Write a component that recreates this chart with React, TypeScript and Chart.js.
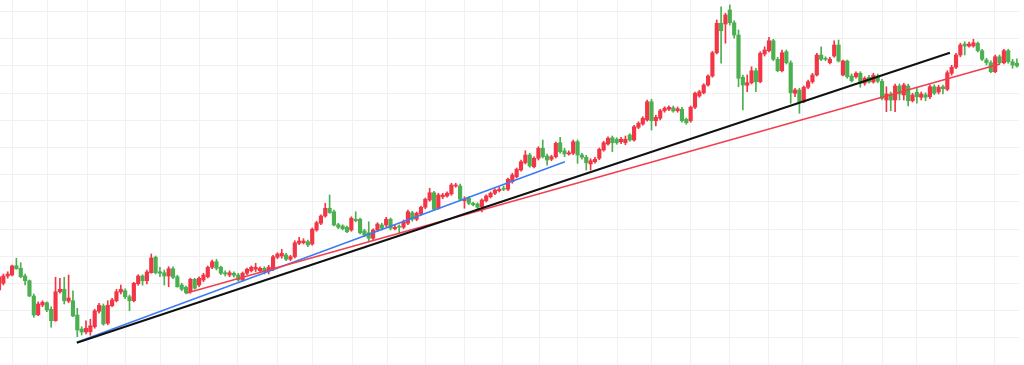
import React, { useEffect, useRef } from "react";
import { Chart, registerables } from "chart.js";

Chart.register(...registerables);

// Weekly candles (index 0..234), price units arbitrary (no axis labels shown)
const opens = [
  30.0, 32.7, 35.6, 36.0, 39.7, 38.7, 35.6, 33.7, 27.6, 20.1,
  24.0, 24.9, 22.3, 17.7, 29.3, 30.3, 25.6, 25.7, 20.0, 14.4,
  13.2, 13.3, 15.3, 21.5, 23.6, 16.7, 23.7, 25.7, 29.2, 29.7,
  27.3, 25.7, 32.5, 35.6, 33.7, 36.9, 43.1, 37.3, 36.9, 35.6,
  38.5, 35.3, 32.0, 31.1, 29.3, 34.3, 32.0, 34.0, 35.3, 39.1,
  41.3, 39.1, 36.9, 36.0, 36.7, 36.0, 34.0, 36.7, 37.7, 38.3,
  37.7, 38.7, 38.0, 38.3, 43.1, 43.6, 44.0, 42.3, 43.3, 48.7,
  48.9, 49.3, 48.4, 54.0, 56.7, 59.6, 62.7, 61.3, 56.1, 55.6,
  55.1, 54.0, 58.3, 58.3, 53.7, 52.9, 50.7, 54.0, 56.0, 56.0,
  58.3, 54.5, 55.3, 55.1, 56.7, 60.9, 58.3, 60.4, 63.1, 66.0,
  68.9, 62.7, 67.3, 67.6, 68.4, 71.6, 71.6, 65.7, 66.7, 64.7,
  64.4, 63.3, 65.7, 67.3, 68.7, 69.7, 70.7, 70.3, 73.3, 75.3,
  78.0, 80.9, 84.0, 79.3, 82.7, 86.7, 83.6, 82.3, 83.3, 88.9,
  85.7, 84.4, 84.7, 89.3, 84.0, 83.1, 80.4, 81.3, 82.7, 86.0,
  88.4, 90.9, 90.3, 89.3, 88.9, 92.0, 90.0, 95.1, 96.4, 98.0,
  105.3, 97.7, 98.7, 101.7, 102.3, 102.9, 101.7, 102.3, 98.3, 97.7,
  103.1, 107.6, 108.9, 112.0, 115.6, 124.9, 136.7, 136.4, 142.0, 136.9,
  132.0, 115.1, 111.9, 112.9, 117.7, 113.3, 124.4, 125.7, 129.7, 122.3,
  117.7, 125.3, 120.9, 108.7, 110.0, 105.3, 111.1, 113.3, 116.0, 124.0,
  122.5, 120.9, 123.6, 128.0, 116.0, 121.6, 115.6, 115.3, 116.7, 112.7,
  115.1, 113.2, 115.6, 113.5, 106.0, 108.4, 106.0, 111.6, 108.0, 111.6,
  105.7, 109.1, 107.1, 108.1, 107.3, 111.3, 109.2, 111.3, 110.3, 116.7,
  119.1, 124.0, 128.4, 127.6, 127.6, 128.7, 125.7, 122.0, 120.9, 117.3,
  123.3, 120.9, 125.7, 121.3, 120.7,
];

const closes = [
  35.3, 35.6, 36.4, 39.6, 38.5, 35.3, 33.7, 27.6, 20.0, 24.4,
  25.1, 22.0, 17.7, 29.3, 30.3, 25.7, 26.8, 19.6, 14.0, 13.2,
  14.7, 15.7, 21.7, 23.9, 16.4, 23.9, 26.0, 29.3, 30.3, 27.3,
  25.7, 32.7, 35.6, 33.7, 37.2, 42.8, 36.9, 36.7, 35.6, 38.5,
  35.1, 31.3, 30.3, 28.9, 34.3, 30.7, 34.7, 36.0, 39.1, 41.3,
  38.7, 36.7, 36.4, 36.9, 35.9, 34.0, 36.7, 38.3, 39.1, 39.1,
  38.7, 37.3, 39.1, 43.3, 44.4, 44.7, 42.3, 43.3, 48.9, 49.6,
  49.6, 48.0, 54.3, 56.9, 59.6, 62.7, 60.9, 56.0, 55.1, 54.5,
  53.3, 58.7, 57.7, 52.9, 52.0, 50.7, 54.0, 56.4, 54.7, 58.3,
  54.7, 55.1, 55.1, 57.3, 61.3, 58.3, 60.7, 63.1, 66.3, 68.9,
  62.3, 68.0, 68.0, 68.7, 72.0, 72.0, 66.3, 66.3, 64.7, 64.1,
  63.1, 66.0, 67.6, 68.7, 70.0, 70.3, 70.3, 74.3, 76.0, 78.3,
  81.3, 84.0, 79.6, 82.7, 86.7, 83.3, 82.0, 83.3, 88.7, 85.3,
  84.4, 84.9, 89.3, 84.0, 83.1, 80.9, 81.7, 82.3, 86.3, 88.9,
  90.7, 88.9, 88.9, 90.3, 90.3, 90.0, 95.3, 96.7, 98.7, 105.3,
  97.7, 99.1, 101.7, 102.7, 103.1, 101.6, 102.5, 97.7, 96.9, 103.1,
  108.7, 109.3, 112.0, 115.6, 124.9, 136.7, 133.7, 140.0, 136.9, 132.0,
  114.7, 112.0, 112.9, 117.7, 113.3, 124.7, 126.0, 129.7, 122.3, 117.7,
  124.9, 120.9, 108.9, 110.0, 104.9, 111.1, 113.3, 116.0, 124.0, 122.3,
  122.3, 122.3, 128.0, 121.6, 121.6, 115.3, 113.7, 116.7, 112.7, 114.7,
  113.2, 115.9, 113.5, 106.7, 108.4, 106.0, 111.6, 108.4, 112.0, 105.7,
  108.0, 107.3, 108.4, 107.1, 111.3, 108.7, 111.1, 110.5, 116.9, 119.1,
  124.0, 128.0, 127.6, 128.4, 128.9, 125.7, 122.3, 120.9, 117.3, 123.3,
  120.9, 125.7, 121.3, 120.0, 119.6,
];

const highs = [
  36.0, 36.4, 37.3, 40.0, 42.7, 40.9, 36.4, 34.0, 28.4, 25.3,
  25.7, 25.3, 23.3, 35.1, 34.7, 35.1, 36.0, 29.7, 22.7, 15.3,
  17.7, 18.3, 22.3, 24.7, 24.4, 25.7, 26.7, 30.3, 32.0, 30.5,
  28.0, 33.1, 36.1, 36.1, 38.0, 44.4, 43.6, 39.1, 38.0, 39.3,
  39.3, 35.9, 32.7, 31.6, 34.7, 34.7, 35.3, 36.7, 39.6, 42.0,
  42.3, 39.6, 37.7, 37.7, 37.3, 36.7, 37.2, 38.8, 39.6, 40.7,
  39.3, 39.3, 39.9, 43.9, 44.9, 46.3, 44.7, 43.9, 49.7, 51.1,
  50.5, 50.0, 54.8, 57.5, 60.1, 64.7, 68.0, 62.0, 56.7, 56.1,
  55.6, 59.3, 61.3, 58.8, 54.3, 57.3, 54.5, 56.9, 56.7, 59.1,
  58.8, 55.9, 56.0, 58.0, 62.0, 61.5, 61.2, 63.6, 66.8, 70.7,
  69.5, 68.7, 68.7, 69.3, 72.7, 72.7, 72.4, 67.3, 67.3, 65.2,
  64.9, 66.5, 68.1, 69.2, 70.5, 71.1, 71.6, 74.8, 76.7, 78.8,
  82.0, 85.7, 84.7, 83.3, 87.3, 90.0, 84.4, 83.9, 89.2, 91.1,
  86.7, 85.7, 90.0, 90.0, 84.7, 83.9, 82.5, 83.1, 86.8, 89.5,
  91.3, 91.6, 90.9, 91.1, 91.6, 92.5, 95.9, 97.3, 99.3, 106.0,
  106.3, 100.0, 102.3, 103.3, 103.7, 103.6, 103.2, 103.1, 98.8, 103.6,
  109.2, 109.9, 112.5, 116.1, 125.5, 138.0, 143.3, 140.7, 144.0, 137.7,
  134.0, 116.0, 116.0, 119.3, 118.7, 125.3, 127.3, 131.1, 130.3, 123.1,
  126.0, 126.0, 121.7, 110.7, 110.7, 111.6, 114.0, 116.7, 124.7, 127.3,
  123.3, 123.1, 129.7, 130.0, 122.0, 122.0, 116.4, 117.3, 117.3, 115.3,
  115.9, 116.7, 116.4, 114.3, 111.3, 109.2, 112.4, 112.4, 112.7, 112.4,
  108.7, 111.1, 109.2, 108.9, 112.1, 112.1, 111.9, 112.0, 117.7, 119.9,
  124.7, 128.7, 129.3, 129.2, 130.3, 129.2, 126.3, 122.7, 121.7, 124.0,
  124.0, 126.3, 126.3, 122.3, 122.5,
];

const lows = [
  29.3, 32.0, 34.7, 35.6, 38.3, 34.9, 32.0, 27.3, 19.1, 19.7,
  23.3, 21.3, 15.1, 17.5, 28.7, 24.4, 24.9, 19.3, 11.3, 12.0,
  12.4, 11.9, 14.7, 20.7, 15.9, 16.1, 23.3, 25.2, 28.4, 26.5,
  21.7, 25.2, 31.9, 31.9, 32.4, 36.7, 36.4, 35.3, 32.0, 31.3,
  34.5, 31.1, 29.7, 28.4, 28.7, 30.3, 31.3, 33.3, 34.8, 38.5,
  38.0, 36.1, 35.6, 35.3, 35.1, 33.5, 33.5, 36.1, 37.2, 37.3,
  36.9, 36.4, 36.4, 37.7, 42.5, 42.7, 41.7, 41.7, 42.8, 48.1,
  48.4, 47.3, 47.9, 53.5, 56.1, 59.1, 60.7, 55.6, 54.5, 54.0,
  52.9, 53.5, 57.3, 52.4, 51.3, 49.3, 50.0, 53.5, 54.0, 55.3,
  54.0, 54.0, 52.9, 54.5, 56.1, 57.5, 57.7, 59.9, 62.5, 65.5,
  62.0, 62.3, 66.5, 67.1, 67.9, 71.1, 66.0, 62.7, 64.1, 63.6,
  62.5, 61.2, 65.2, 66.8, 68.1, 69.2, 69.7, 69.7, 72.7, 74.8,
  77.5, 80.4, 79.1, 78.8, 82.0, 82.8, 79.9, 81.7, 82.8, 84.7,
  83.3, 83.9, 84.1, 80.7, 82.3, 78.0, 78.0, 80.7, 82.1, 85.5,
  87.9, 85.3, 88.3, 88.5, 88.1, 89.5, 89.5, 94.5, 95.9, 97.5,
  94.0, 95.6, 98.0, 101.1, 101.7, 101.1, 101.1, 97.1, 96.3, 97.1,
  102.5, 107.1, 108.4, 111.5, 115.1, 124.4, 120.7, 128.7, 136.0, 130.7,
  111.3, 102.0, 109.3, 112.4, 109.3, 112.9, 123.6, 125.2, 121.7, 117.3,
  117.2, 120.4, 104.7, 107.3, 100.7, 104.9, 110.5, 112.7, 115.6, 121.7,
  121.7, 120.4, 123.1, 121.2, 115.6, 114.7, 113.2, 114.7, 111.1, 111.9,
  112.7, 112.7, 112.9, 106.0, 101.3, 101.7, 101.3, 106.0, 106.0, 103.6,
  105.2, 104.7, 106.0, 105.7, 106.5, 108.1, 108.4, 108.4, 109.7, 115.9,
  118.5, 123.3, 124.0, 127.1, 127.1, 125.2, 121.7, 120.0, 116.9, 116.9,
  120.4, 120.4, 120.7, 118.7, 119.1,
];

// Trend lines (candle index, price)
const blackTrend = [
  { x: 17.9, y: 8.9 },
  { x: 218.6, y: 124.9 },
];
const blueTrend = [
  { x: 17.9, y: 9.1 },
  { x: 130.1, y: 81.3 },
];
const redTrend = [
  { x: 43.2, y: 28.8 },
  { x: 230.1, y: 120.4 },
];

// Grid positions (time grid lines fall between candles)
const xGridTicks = [
  3.0, 11.26, 20.23, 28.97, 37.24, 45.98, 54.94, 63.91, 72.18, 81.15,
  89.2, 97.93, 106.9, 115.86, 124.14, 133.1, 142.07, 150.11, 158.85,
  167.82, 176.78, 184.6, 193.8, 203.0, 211.03, 220.0, 228.74,
];
const yGridTicks = [
  11.2, 22.0, 32.8, 43.6, 54.4, 65.2, 76.2, 87.0, 97.9, 108.8, 119.7, 130.5, 141.4,
];

const X_MIN = 0.23;
const X_MAX = 234.48;
const Y_MIN = 0;
const Y_MAX = 146;

const UP = "#f23645";
const DOWN = "#4caf50";
const GRID = "#f1f1f1";

export default function App() {
  const ref = useRef<HTMLCanvasElement | null>(null);

  useEffect(() => {
    if (!ref.current) return;
    const idx = opens.map((_, i) => i);
    const colors = idx.map((i) => (closes[i] >= opens[i] ? UP : DOWN));

    const chart = new Chart(ref.current, {
      type: "bar",
      data: {
        datasets: [
          {
            type: "line",
            data: blackTrend,
            borderColor: "#111111",
            borderWidth: 2,
            pointRadius: 0,
            order: 0,
          } as any,
          {
            type: "line",
            data: redTrend,
            borderColor: "#f0404f",
            borderWidth: 1.6,
            pointRadius: 0,
            order: 0,
          } as any,
          {
            type: "line",
            data: blueTrend,
            borderColor: "#3d7bf5",
            borderWidth: 1.6,
            pointRadius: 0,
            order: 0,
          } as any,
          {
            type: "bar",
            data: idx.map((i) => ({ x: i, y: [opens[i], closes[i]] })),
            backgroundColor: colors,
            borderWidth: 0,
            barThickness: 3.5,
            minBarLength: 1,
            grouped: false,
            order: 1,
          } as any,
          {
            type: "bar",
            data: idx.map((i) => ({ x: i, y: [lows[i], highs[i]] })),
            backgroundColor: colors,
            borderWidth: 0,
            barThickness: 1,
            grouped: false,
            order: 2,
          } as any,
        ],
      },
      options: {
        animation: false,
        responsive: true,
        maintainAspectRatio: false,
        layout: { padding: { left: 0, right: 5, top: 0, bottom: 0 } },
        plugins: {
          legend: { display: false },
          tooltip: { enabled: false },
        },
        scales: {
          x: {
            type: "linear",
            min: X_MIN,
            max: X_MAX,
            offset: false,
            grid: { color: GRID, drawTicks: false, offset: false },
            border: { display: false },
            ticks: { display: false },
            afterBuildTicks: (s: any) => {
              s.ticks = xGridTicks.map((v) => ({ value: v }));
            },
          },
          y: {
            type: "linear",
            min: Y_MIN,
            max: Y_MAX,
            grid: { color: GRID, drawTicks: false },
            border: { display: false },
            ticks: { display: false },
            afterBuildTicks: (s: any) => {
              s.ticks = yGridTicks.map((v) => ({ value: v }));
            },
          },
        },
      } as any,
    });

    return () => chart.destroy();
  }, []);

  return (
    <div
      style={{
        position: "fixed",
        left: 0,
        top: 0,
        width: 1024,
        height: 365,
        background: "#ffffff",
      }}
    >
      <canvas ref={ref} />
    </div>
  );
}
